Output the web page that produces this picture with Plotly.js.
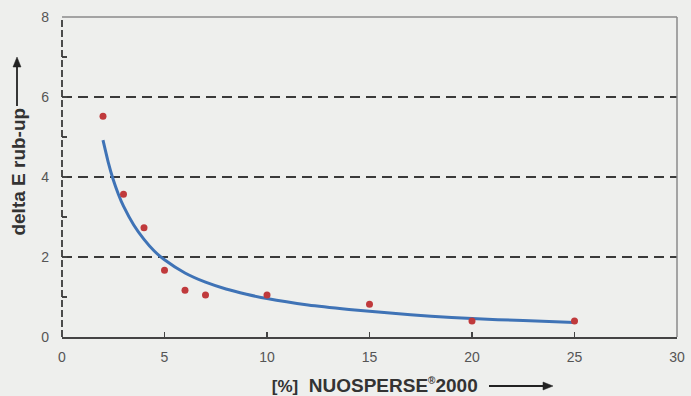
<!DOCTYPE html>
<html>
<head>
<meta charset="utf-8">
<script src="https://cdn.plot.ly/plotly-3.0.1.min.js"></script>
<style>html,body{margin:0;padding:0;background:#eeefed;}#chart{width:691px;height:396px;}</style>
</head>
<body>
<div id="chart"></div>
<script>
// Measured points
const dispersantPct = [2, 3, 4, 5, 6, 7, 10, 15, 20, 25];
const deltaE = [5.52, 3.57, 2.73, 1.67, 1.17, 1.05, 1.05, 0.82, 0.40, 0.40];

// Trend line
const trendX = [2, 2.25, 2.5, 2.75, 3, 3.5, 4, 4.5, 5, 6, 7, 8, 9, 10, 12, 14, 16, 18, 20, 22.5, 25];
const trendY = [4.92, 4.38, 3.93, 3.57, 3.27, 2.80, 2.44, 2.15, 1.93, 1.60, 1.37, 1.20, 1.07, 0.96, 0.80, 0.69, 0.60, 0.52, 0.46, 0.41, 0.36];

const xTickVals = [0, 5, 10, 15, 20, 25, 30];
const yTickVals = [0, 2, 4, 6, 8];
const gridLevels = [2, 4, 6];

const xTitle = '<b>&nbsp;&nbsp;<span style="font-size:17px">[%]</span>&nbsp;&nbsp;NUOSPERSE<sup><span style="font-size:10px">®</span></sup>2000</b>';
const yTitle = '<b>&nbsp;&nbsp;delta E rub-up</b>';

const traces = [
  {
    x: trendX, y: trendY, type: 'scatter', mode: 'lines',
    line: {color: '#3f73b6', width: 3, shape: 'spline', smoothing: 0.6},
    hoverinfo: 'skip', showlegend: false
  },
  {
    x: dispersantPct, y: deltaE, type: 'scatter', mode: 'markers',
    marker: {color: '#c03a3c', size: 7},
    showlegend: false
  }
];

const shapes = gridLevels.map(v => ({
  type: 'line', xref: 'paper', yref: 'y', x0: 0, x1: 1, y0: v, y1: v, layer: 'below',
  line: {color: '#3a3a3a', width: 2, dash: '10px,6px'}
}));
shapes.push(
  {type: 'line', xref: 'paper', yref: 'paper', x0: 0, x1: 0, y0: 0, y1: 1,
   line: {color: '#3a3a3a', width: 1.8, dash: '7px,3px'}},
  {type: 'line', xref: 'paper', yref: 'paper', x0: 0, x1: 1, y0: 1, y1: 1,
   line: {color: '#8a8a8a', width: 1.5}},
  {type: 'line', xref: 'paper', yref: 'paper', x0: 1, x1: 1, y0: 0, y1: 1,
   line: {color: '#8a8a8a', width: 1.5}},
  // arrow beside the x-axis title
  {type: 'line', xref: 'paper', yref: 'paper', x0: 0.6943, x1: 0.7854, y0: -0.153125, y1: -0.153125,
   line: {color: '#222', width: 1.8}},
  {type: 'path', xref: 'paper', yref: 'paper',
   path: 'M 0.7984 -0.153125 L 0.7821 -0.140625 L 0.7821 -0.165625 Z',
   fillcolor: '#222', line: {color: '#222', width: 0.5}},
  // arrow beside the y-axis title
  {type: 'line', xref: 'paper', yref: 'paper', x0: -0.07317, x1: -0.07317, y0: 0.7219, y1: 0.85,
   line: {color: '#222', width: 1.8}},
  {type: 'path', xref: 'paper', yref: 'paper',
   path: 'M -0.07317 0.875 L -0.07967 0.84375 L -0.06667 0.84375 Z',
   fillcolor: '#222', line: {color: '#222', width: 0.5}}
);

const layout = {
  width: 691, height: 396,
  margin: {l: 62, r: 14, t: 17, b: 59},
  paper_bgcolor: '#eeefed', plot_bgcolor: '#eeefed',
  font: {family: '"Liberation Sans", Arial, sans-serif', color: '#555'},
  showlegend: false,
  xaxis: {
    range: [0, 30], tickvals: xTickVals, ticks: 'inside', ticklen: 5, tickcolor: '#444', tickwidth: 1.2,
    showgrid: false, zeroline: false, showline: true, linecolor: '#444', linewidth: 1.8,
    tickfont: {size: 14, color: '#555'}, ticklabelstandoff: 6,
    title: {text: xTitle, font: {size: 19, color: '#333'}, standoff: 15}
  },
  yaxis: {
    range: [0, 8], tickvals: yTickVals, ticks: 'inside', ticklen: 5, tickcolor: '#444', tickwidth: 1.2,
    minor: {dtick: 1, ticks: 'inside', ticklen: 5, tickcolor: '#444', showgrid: false},
    showgrid: false, zeroline: false, showline: false,
    tickfont: {size: 14, color: '#555'}, ticklabelstandoff: 12,
    title: {text: yTitle, font: {size: 19, color: '#333'}, standoff: 10}
  },
  shapes: shapes
};

Plotly.newPlot('chart', traces, layout, {displayModeBar: false, staticPlot: true});
</script>
</body>
</html>
